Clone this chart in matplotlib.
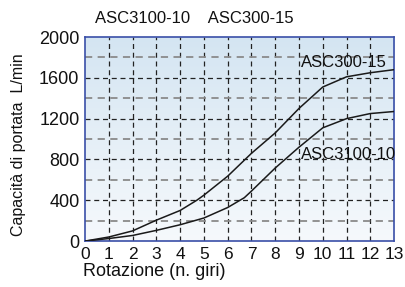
import numpy as np
import matplotlib
matplotlib.use("Agg")
import matplotlib.pyplot as plt
from matplotlib.colors import LinearSegmentedColormap

plt.rcParams['font.family'] = ['Liberation Sans', 'DejaVu Sans']

rot = [0, 1, 2, 3, 4, 4.7, 5, 6, 7, 8, 9, 10, 11, 12, 13]
asc300_15 = [0, 40, 100, 205, 300, 400, 450, 636, 860, 1060, 1300, 1510, 1610, 1650, 1680]
rot_b = [0, 1, 2, 3, 4, 5, 6, 6.7, 7, 8, 9, 10, 11, 12, 13]
asc3100_10 = [0, 25, 55, 105, 160, 226, 329, 425, 490, 716, 920, 1110, 1200, 1250, 1270]
xticks = list(range(0, 14))
yticks = [0, 400, 800, 1200, 1600, 2000]

fig = plt.figure(figsize=(4.05, 2.87), dpi=100)
ax = fig.add_axes([0.21, 0.160, 0.763, 0.711])
ax.set_xlim(0, 13)
ax.set_ylim(0, 2000)

cmap = LinearSegmentedColormap.from_list('bg', ['#f6f9fc', '#d4e5f2'])
grad = np.linspace(0, 1, 256).reshape(-1, 1)
ax.imshow(grad, aspect='auto', cmap=cmap, origin='lower',
          extent=[0, 13, 0, 2000], zorder=0)

for x in range(1, 13):
    ax.axvline(x, color='#222222', lw=0.9, ls=(0, (4, 3)), zorder=1)
for y in range(200, 2000, 200):
    if y % 400 == 0:
        ax.axhline(y, color='#222222', lw=0.9, ls=(0, (4, 3)), zorder=1)
    else:
        ax.axhline(y, color='#8a8a8a', lw=1.3, ls=(0, (4, 3)), zorder=1)

ax.plot(rot, asc300_15, color='#1a1a1a', lw=1.1, zorder=3)
ax.plot(rot_b, asc3100_10, color='#1a1a1a', lw=1.1, zorder=3)

ax.text(9.1, 1750, 'ASC300-15', fontsize=12, ha='left', va='center', color='#111111', zorder=4)
ax.text(9.1, 850, 'ASC3100-10', fontsize=12, ha='left', va='center', color='#111111', zorder=4)

for s in ax.spines.values():
    s.set_color('#3a4fa8')
    s.set_linewidth(1.2)

ax.set_xticks(xticks)
ax.set_yticks(yticks)
ax.tick_params(length=0, labelsize=13, pad=4, colors='#111111')
ax.tick_params(axis='x', labelsize=12.5)

fig.text(0.235, 0.935, 'ASC3100-10    ASC300-15', fontsize=12, ha='left', va='center', color='#111111')
fig.text(0.045, 0.495, 'Capacità di portata  L/min', fontsize=11.5, rotation=90, ha='center', va='center', color='#111111')
fig.text(0.205, 0.055, 'Rotazione (n. giri)', fontsize=13, ha='left', va='center', color='#111111')

fig.savefig('out.png', dpi=100)
